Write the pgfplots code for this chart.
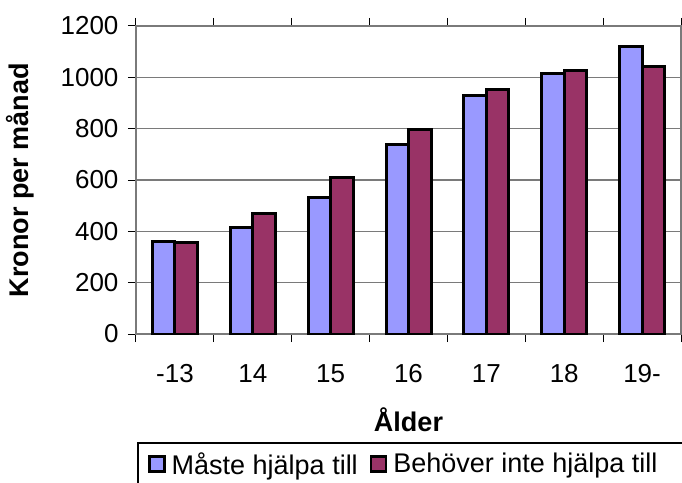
\documentclass[border=0pt]{standalone}
\usepackage{pgfplots}
\pgfplotsset{compat=1.18}
\usepackage{fontspec}
\setmainfont{Liberation Sans}
\definecolor{cblue}{HTML}{9999FF}
\definecolor{cpurp}{HTML}{993366}
\definecolor{gridc}{HTML}{7A7A7A}
\begin{document}
\begin{tikzpicture}
\begin{axis}[
  name=ax,
  scale only axis,
  width=545pt, height=308pt,
  xmin=-0.5, xmax=6.5,
  ymin=0, ymax=1200,
  ytick={0,200,...,1200},
  xtick={-0.5,0.5,...,6.5},
  xticklabels={-13,14,15,16,17,18,19-},
  x tick label as interval,
  tick align=outside,
  major tick length=8pt,
  tick style={black, line width=1pt},
  ymajorgrids,
  grid style={gridc, line width=1.3pt},
  axis line style={gridc, line width=1.8pt},
  /pgf/number format/assume math mode=true,
  /pgf/number format/1000 sep={},
  tick label style={font=\fontsize{26}{30}\selectfont},
  yticklabel style={xshift=-6pt},
  xticklabel style={yshift=-19pt},
  ylabel={\bfseries Kronor per månad},
  xlabel={\bfseries Ålder},
  label style={font=\fontsize{27}{32}\selectfont},
  ylabel style={yshift=20pt},
  xlabel style={yshift=-18pt},
  ybar=0pt,
  bar width=22.5pt,
  legend columns=2,
  legend style={draw=none, fill=none, at={(axis description cs:0.0037,-0.354)}, anchor=north west,
    font=\fontsize{27}{30}\selectfont, inner xsep=10pt, inner ysep=7pt,
    /tikz/every odd column/.append style={column sep=4pt},
    /tikz/every even column/.append style={column sep=10pt}},
  legend image code/.code={\draw[#1, line width=2.5pt] (0pt,-7.5pt) rectangle (15pt,7.5pt);},
]
\addplot[fill=cblue, draw=black, line width=3pt] coordinates {(0,362) (1,415) (2,533) (3,740) (4,930) (5,1013) (6,1121)};
\addplot[fill=cpurp, draw=black, line width=3pt] coordinates {(0,358) (1,470) (2,610) (3,796) (4,953) (5,1027) (6,1042)};
\legend{Måste hjälpa till, Behöver inte hjälpa till}
\end{axis}
\draw[black, line width=1.3pt] ([shift={(2pt,-180pt)}]ax.south west) -- ([shift={(2pt,-109pt)}]ax.south west) -- ([shift={(700pt,-109pt)}]ax.south west);
\pgfresetboundingbox
\path[use as bounding box] ([shift={(-136pt,-148pt)}]ax.south west) rectangle ([shift={(546pt,334pt)}]ax.south west);
\end{tikzpicture}
\end{document}
